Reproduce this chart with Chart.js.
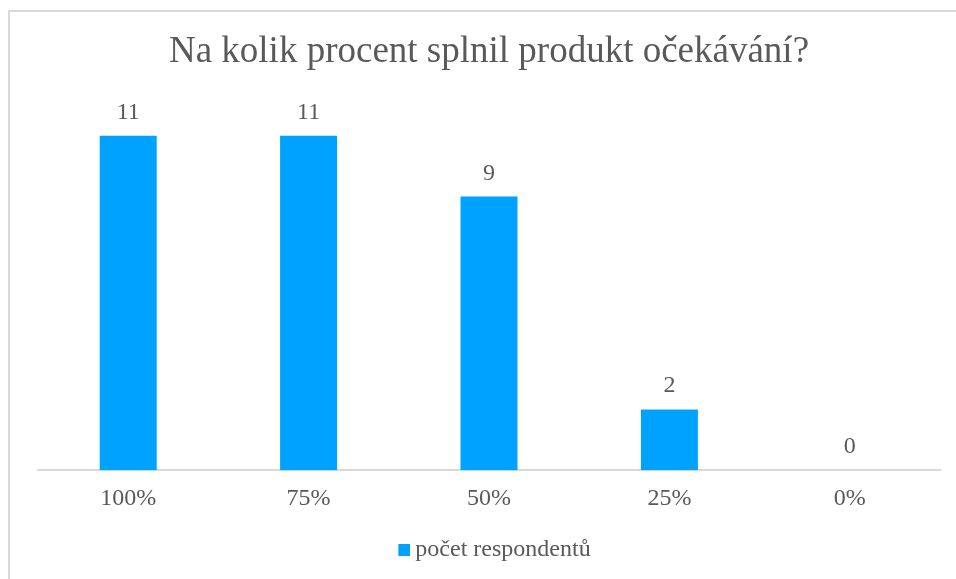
<!DOCTYPE html>
<html>
<head>
<meta charset="utf-8">
<script src="https://cdn.jsdelivr.net/npm/chart.js@4/dist/chart.umd.min.js"></script>
<style>
  html, body { margin: 0; padding: 0; background: #ffffff; }
  #wrap { position: relative; width: 956px; height: 579px; }
  canvas { display: block; }
</style>
</head>
<body>
<div id="wrap"><canvas id="c" width="956" height="579"></canvas></div>
<script>
const categories = ["100%", "75%", "50%", "25%", "0%"];
const respondents = [11, 11, 9, 2, 0];
const seriesName = "počet respondentů";
const chartTitle = "Na kolik procent splnil produkt očekávání?";

const FONT = "'Liberation Serif', 'Times New Roman', serif";
const TEXT = "#595959";
const BAR = "#00a2ff";

const swatch = document.createElement('canvas');
swatch.width = 16; swatch.height = 12;
(function(){ const g = swatch.getContext('2d'); g.fillStyle = BAR; g.fillRect(4, 0, 12, 12); })();

const frame = {
  id: 'frame',
  beforeDraw(chart) {
    const ctx = chart.ctx;
    ctx.save();
    ctx.strokeStyle = '#d9d9d9';
    ctx.lineWidth = 2;
    ctx.beginPath();
    ctx.moveTo(9, chart.height);
    ctx.lineTo(9, 11);
    ctx.lineTo(chart.width, 11);
    ctx.stroke();
    ctx.restore();
  }
};

const legendShift = {
  id: 'legendShift',
  afterLayout(chart) {
    if (chart.legend) {
      chart.legend.left += 7;
      chart.legend.right += 7;
      chart.legend.top += 1;
      chart.legend.bottom += 1;
    }
  }
};

const valueLabels = {
  id: 'valueLabels',
  afterDatasetsDraw(chart) {
    const ctx = chart.ctx;
    const meta = chart.getDatasetMeta(0);
    ctx.save();
    ctx.font = "24px " + FONT;
    ctx.fillStyle = TEXT;
    ctx.textAlign = 'center';
    ctx.textBaseline = 'alphabetic';
    meta.data.forEach((bar, i) => {
      ctx.fillText(String(chart.data.datasets[0].data[i]), bar.x, bar.y - 17);
    });
    ctx.restore();
  }
};

new Chart(document.getElementById('c'), {
  type: 'bar',
  data: {
    labels: categories,
    datasets: [{
      label: seriesName,
      data: respondents,
      backgroundColor: BAR,
      borderWidth: 0,
      barPercentage: 1,
      categoryPercentage: 0.316,
      pointStyle: swatch
    }]
  },
  options: {
    responsive: false,
    animation: false,
    devicePixelRatio: 1,
    layout: { padding: { left: 38, right: 16, top: 0, bottom: 8 } },
    plugins: {
      title: {
        display: true,
        text: chartTitle,
        color: TEXT,
        font: { family: FONT, size: 37, weight: 'normal' },
        padding: { top: 30, bottom: 31 }
      },
      legend: {
        display: true,
        position: 'bottom',
        labels: {
          color: TEXT,
          font: { family: FONT, size: 24 },
          usePointStyle: true,
          pointStyleWidth: 2,
          boxHeight: 12,
          padding: 10
        }
      },
      tooltip: { enabled: false }
    },
    scales: {
      x: {
        grid: { display: false, drawTicks: false },
        border: { display: true, color: '#d9d9d9', width: 2 },
        ticks: {
          color: TEXT,
          font: { family: FONT, size: 24 },
          padding: 14
        }
      },
      y: {
        display: false,
        min: 0,
        max: 12
      }
    }
  },
  plugins: [frame, legendShift, valueLabels]
});
</script>
</body>
</html>
